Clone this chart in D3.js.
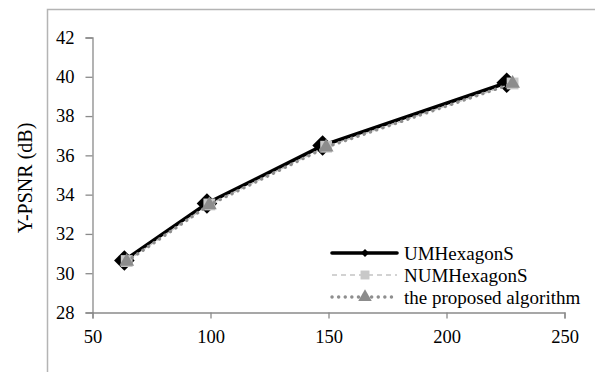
<!DOCTYPE html>
<html>
<head>
<meta charset="utf-8">
<script src="https://cdn.jsdelivr.net/npm/d3@7"></script>
<style>
  html, body { margin: 0; padding: 0; background: #fff; }
  svg { display: block; }
  text { font-family: "Liberation Serif", Tinos, "Times New Roman", "DejaVu Serif", serif; fill: #000; }
</style>
</head>
<body>
<div id="chart"></div>
<script>
// Bitrate (kbps) vs Y-PSNR (dB)
const umhBitrate  = [63.5, 98.5, 147.5, 225.5];
const umhPsnr     = [30.65, 33.55, 36.5, 39.7];
const numBitrate  = [64.5, 99.5, 149, 228];
const numPsnr     = [30.62, 33.5, 36.44, 39.66];
const propBitrate = [64.5, 99.5, 149, 228];
const propPsnr    = [30.6, 33.48, 36.42, 39.66];

const seriesNames = ["UMHexagonS", "NUMHexagonS", "the proposed algorithm"];
const xTicks = [50, 100, 150, 200, 250];
const yTicks = [28, 30, 32, 34, 36, 38, 40, 42];
const yTitle = "Y-PSNR (dB)";

const W = 595, H = 372;
const svg = d3.select("#chart").append("svg").attr("width", W).attr("height", H);

// cadre du graphique (coupé à droite et en bas)
svg.append("path")
  .attr("d", `M47.5,${H + 2} V9.5 H${W + 2}`)
  .attr("fill", "none").attr("stroke", "#b4b4b4").attr("stroke-width", 1.5);

const x = d3.scaleLinear().domain([50, 250]).range([92.5, 564.5]);
const y = d3.scaleLinear().domain([28, 42]).range([312.5, 37.5]);

// axes
const gx = svg.append("g").attr("transform", `translate(0,${y(28)})`)
  .call(d3.axisBottom(x).tickValues(xTicks).tickSize(6).tickPadding(11));
const gy = svg.append("g").attr("transform", `translate(${x(50)},0)`)
  .call(d3.axisLeft(y).tickValues(yTicks).tickSize(7).tickPadding(11));

[gx, gy].forEach(g => {
  g.attr("font-family", null);
  g.select(".domain").attr("stroke", "#8a8a8a").attr("stroke-width", 1.3);
  g.selectAll(".tick line").attr("stroke", "#8a8a8a").attr("stroke-width", 1.3);
  g.selectAll(".tick text").attr("font-size", 18.5).attr("fill", "#000");
});

svg.append("text")
  .attr("transform", `translate(32,178) rotate(-90)`)
  .attr("text-anchor", "middle")
  .attr("font-size", 20)
  .text(yTitle);

// styles par série
const styles = [
  { color: "#000", width: 3.6, dash: null, cap: "round", marker: d3.symbolDiamond2, msize: 270, mcolor: "#000" },
  { color: "#c4c4c4", width: 1.5, dash: "5,4", cap: "butt", marker: d3.symbolSquare, msize: 140, mcolor: "#c8c8c8" },
  { color: "#8e8e8e", width: 3.4, dash: "0.1,6.5", cap: "round", marker: d3.symbolTriangle, msize: 95, mcolor: "#8c8c8c" },
];
const dataSets = [
  d3.zip(umhBitrate, umhPsnr),
  d3.zip(numBitrate, numPsnr),
  d3.zip(propBitrate, propPsnr),
];

const line = d3.line().x(d => x(d[0])).y(d => y(d[1]));

dataSets.forEach((data, i) => {
  const s = styles[i];
  svg.append("path")
    .attr("d", line(data))
    .attr("fill", "none")
    .attr("stroke", s.color)
    .attr("stroke-width", s.width)
    .attr("stroke-dasharray", s.dash)
    .attr("stroke-linecap", s.cap)
    .attr("stroke-linejoin", "round");
  svg.selectAll(null).data(data).join("path")
    .attr("transform", d => `translate(${x(d[0])},${y(d[1])})`)
    .attr("d", d3.symbol(s.marker, s.msize)())
    .attr("fill", s.mcolor);
});

// légende
const leg = svg.append("g").attr("transform", "translate(330,253)");
seriesNames.forEach((name, i) => {
  const s = styles[i];
  const row = leg.append("g").attr("transform", `translate(0,${i * 22})`);
  row.append("line")
    .attr("x1", 2).attr("x2", 67).attr("y1", 0).attr("y2", 0)
    .attr("stroke", s.color)
    .attr("stroke-width", s.width)
    .attr("stroke-dasharray", s.dash)
    .attr("stroke-linecap", s.cap);
  row.append("path")
    .attr("transform", "translate(35,0)")
    .attr("d", d3.symbol(s.marker, i === 0 ? 40 : 80)())
    .attr("fill", s.mcolor);
  row.append("text")
    .attr("x", 74).attr("y", 7)
    .attr("font-size", 19)
    .text(name);
});
</script>
</body>
</html>
